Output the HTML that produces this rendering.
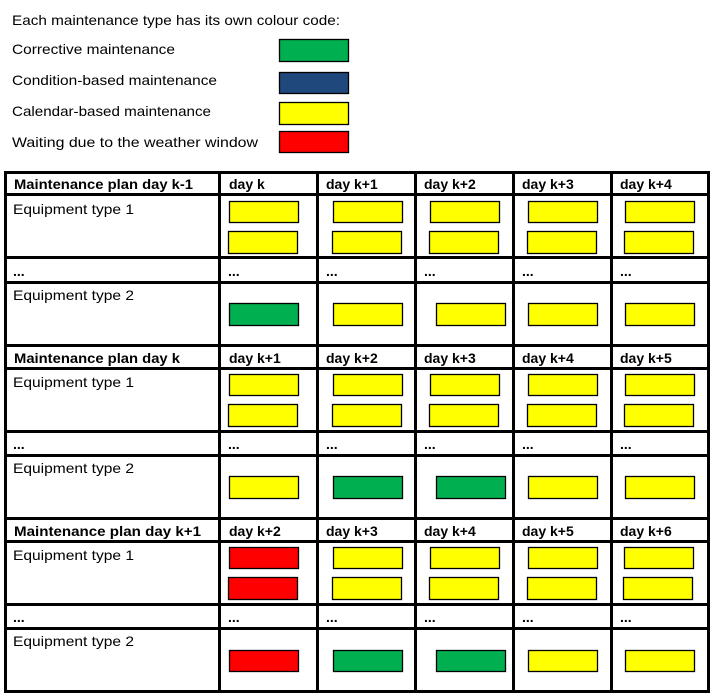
<!DOCTYPE html>
<html><head><meta charset="utf-8"><style>
html,body{margin:0;padding:0;background:#fff;width:713px;height:698px;overflow:hidden}
text{font-family:"Liberation Sans",sans-serif;font-size:14px;fill:#000}
.b{font-weight:bold}
.y{fill:#FFFF00;stroke:#000;stroke-width:1.3}
.g{fill:#00B050;stroke:#000;stroke-width:1.3}
.r{fill:#FF0000;stroke:#000;stroke-width:1.3}
.n{fill:#1F497D;stroke:#000;stroke-width:1.3}
</style></head><body>
<svg width="713" height="698" xmlns="http://www.w3.org/2000/svg">
<text x="12" y="25" textLength="328" lengthAdjust="spacingAndGlyphs">Each maintenance type has its own colour code:</text>
<text x="12" y="54" textLength="163" lengthAdjust="spacingAndGlyphs">Corrective maintenance</text>
<text x="12" y="85" textLength="205" lengthAdjust="spacingAndGlyphs">Condition-based maintenance</text>
<text x="12" y="116" textLength="199" lengthAdjust="spacingAndGlyphs">Calendar-based maintenance</text>
<text x="12" y="147" textLength="246" lengthAdjust="spacingAndGlyphs">Waiting due to the weather window</text>
<rect class="g" x="279.5" y="39.5" width="69" height="22"/>
<rect class="n" x="279.5" y="72.5" width="69" height="21"/>
<rect class="y" x="279.5" y="102.5" width="69" height="22"/>
<rect class="r" x="279.5" y="131.5" width="69" height="21"/>

<!-- grid lines -->
<g fill="#000">
<rect x="4" y="171" width="706" height="3"/><rect x="4" y="193" width="706" height="3"/><rect x="4" y="256" width="706" height="3"/><rect x="4" y="281" width="706" height="3"/>
<rect x="4" y="344" width="706" height="3"/><rect x="4" y="367" width="706" height="3"/><rect x="4" y="430" width="706" height="3"/><rect x="4" y="454" width="706" height="3"/>
<rect x="4" y="517" width="706" height="3"/><rect x="4" y="540" width="706" height="3"/><rect x="4" y="603" width="706" height="3"/><rect x="4" y="627" width="706" height="3"/>
<rect x="4" y="690" width="706" height="3"/>
<rect x="4" y="171" width="3" height="522"/><rect x="218" y="171" width="3" height="522"/><rect x="316" y="171" width="3" height="522"/><rect x="414" y="171" width="3" height="522"/><rect x="512" y="171" width="3" height="522"/><rect x="610" y="171" width="3" height="522"/><rect x="707" y="171" width="3" height="522"/>
</g>

<!-- block 1 -->
<text class="b" x="14" y="189" textLength="179" lengthAdjust="spacingAndGlyphs">Maintenance plan day k-1</text>
<text class="b" x="229" y="189">day k</text><text class="b" x="326" y="189">day k+1</text><text class="b" x="424" y="189">day k+2</text><text class="b" x="522" y="189">day k+3</text><text class="b" x="620" y="189">day k+4</text>
<text x="13" y="214" textLength="121" lengthAdjust="spacingAndGlyphs">Equipment type 1</text>
<text class="b" x="13" y="276">...</text><text class="b" x="228" y="276">...</text><text class="b" x="326" y="276">...</text><text class="b" x="424" y="276">...</text><text class="b" x="522" y="276">...</text><text class="b" x="620" y="276">...</text>
<text x="13" y="300" textLength="121" lengthAdjust="spacingAndGlyphs">Equipment type 2</text>
<rect class="y" x="229.5" y="201.5" width="69" height="21"/><rect class="y" x="333.5" y="201.5" width="69" height="21"/><rect class="y" x="430.5" y="201.5" width="69" height="21"/><rect class="y" x="528.5" y="201.5" width="69" height="21"/><rect class="y" x="625.5" y="201.5" width="69" height="21"/>
<rect class="y" x="228.5" y="231.5" width="69" height="22"/><rect class="y" x="332.5" y="231.5" width="69" height="22"/><rect class="y" x="429.5" y="231.5" width="69" height="22"/><rect class="y" x="527.5" y="231.5" width="69" height="22"/><rect class="y" x="624.5" y="231.5" width="69" height="22"/>
<rect class="g" x="229.5" y="303.5" width="69" height="22"/><rect class="y" x="333.5" y="303.5" width="69" height="22"/><rect class="y" x="436.5" y="303.5" width="69" height="22"/><rect class="y" x="528.5" y="303.5" width="69" height="22"/><rect class="y" x="625.5" y="303.5" width="69" height="22"/>

<!-- block 2 -->
<text class="b" x="14" y="363" textLength="166" lengthAdjust="spacingAndGlyphs">Maintenance plan day k</text>
<text class="b" x="229" y="363">day k+1</text><text class="b" x="326" y="363">day k+2</text><text class="b" x="424" y="363">day k+3</text><text class="b" x="522" y="363">day k+4</text><text class="b" x="620" y="363">day k+5</text>
<text x="13" y="387" textLength="121" lengthAdjust="spacingAndGlyphs">Equipment type 1</text>
<text class="b" x="13" y="449">...</text><text class="b" x="228" y="449">...</text><text class="b" x="326" y="449">...</text><text class="b" x="424" y="449">...</text><text class="b" x="522" y="449">...</text><text class="b" x="620" y="449">...</text>
<text x="13" y="473" textLength="121" lengthAdjust="spacingAndGlyphs">Equipment type 2</text>
<rect class="y" x="229.5" y="374.5" width="69" height="21"/><rect class="y" x="333.5" y="374.5" width="69" height="21"/><rect class="y" x="430.5" y="374.5" width="69" height="21"/><rect class="y" x="528.5" y="374.5" width="69" height="21"/><rect class="y" x="625.5" y="374.5" width="69" height="21"/>
<rect class="y" x="228.5" y="404.5" width="69" height="22"/><rect class="y" x="332.5" y="404.5" width="69" height="22"/><rect class="y" x="429.5" y="404.5" width="69" height="22"/><rect class="y" x="527.5" y="404.5" width="69" height="22"/><rect class="y" x="624.5" y="404.5" width="69" height="22"/>
<rect class="y" x="229.5" y="476.5" width="69" height="22"/><rect class="g" x="333.5" y="476.5" width="69" height="22"/><rect class="g" x="436.5" y="476.5" width="69" height="22"/><rect class="y" x="528.5" y="476.5" width="69" height="22"/><rect class="y" x="625.5" y="476.5" width="69" height="22"/>

<!-- block 3 -->
<text class="b" x="14" y="536" textLength="187" lengthAdjust="spacingAndGlyphs">Maintenance plan day k+1</text>
<text class="b" x="229" y="536">day k+2</text><text class="b" x="326" y="536">day k+3</text><text class="b" x="424" y="536">day k+4</text><text class="b" x="522" y="536">day k+5</text><text class="b" x="620" y="536">day k+6</text>
<text x="13" y="560" textLength="121" lengthAdjust="spacingAndGlyphs">Equipment type 1</text>
<text class="b" x="13" y="622">...</text><text class="b" x="228" y="622">...</text><text class="b" x="326" y="622">...</text><text class="b" x="424" y="622">...</text><text class="b" x="522" y="622">...</text><text class="b" x="620" y="622">...</text>
<text x="13" y="646" textLength="121" lengthAdjust="spacingAndGlyphs">Equipment type 2</text>
<rect class="r" x="229.5" y="547.5" width="69" height="21"/><rect class="y" x="333.5" y="547.5" width="69" height="21"/><rect class="y" x="430.5" y="547.5" width="69" height="21"/><rect class="y" x="528.5" y="547.5" width="69" height="21"/><rect class="y" x="624.5" y="547.5" width="69" height="21"/>
<rect class="r" x="228.5" y="577.5" width="69" height="22"/><rect class="y" x="332.5" y="577.5" width="69" height="22"/><rect class="y" x="429.5" y="577.5" width="69" height="22"/><rect class="y" x="527.5" y="577.5" width="69" height="22"/><rect class="y" x="623.5" y="577.5" width="69" height="22"/>
<rect class="r" x="229.5" y="650.5" width="69" height="21"/><rect class="g" x="333.5" y="650.5" width="69" height="21"/><rect class="g" x="436.5" y="650.5" width="69" height="21"/><rect class="y" x="528.5" y="650.5" width="69" height="21"/><rect class="y" x="625.5" y="650.5" width="69" height="21"/>
</svg>
</body></html>
